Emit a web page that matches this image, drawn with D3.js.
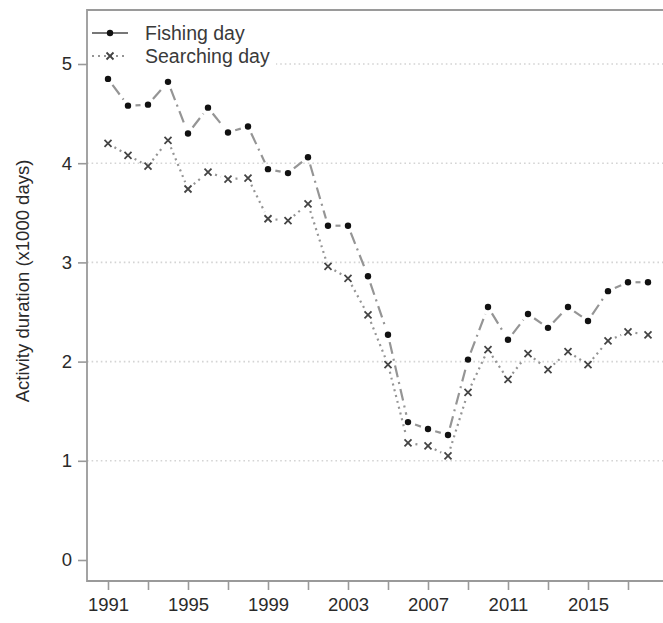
<!DOCTYPE html>
<html><head><meta charset="utf-8">
<script src="https://cdn.jsdelivr.net/npm/d3@7/dist/d3.min.js"></script>
<style>
body{margin:0;background:#fff;}
svg{display:block;font-family:"Liberation Sans",Arial,Helvetica,sans-serif;}
</style></head>
<body>
<svg id="chart" width="663" height="623"></svg>
<script>
const years = d3.range(1991, 2019);
const fishing = [4.85,4.58,4.59,4.82,4.30,4.56,4.31,4.37,3.94,3.90,4.06,3.37,3.37,2.86,2.27,1.39,1.32,1.26,2.02,2.55,2.22,2.48,2.34,2.55,2.41,2.71,2.80,2.80];
const searching = [4.20,4.08,3.97,4.23,3.74,3.91,3.84,3.85,3.44,3.42,3.59,2.96,2.84,2.47,1.97,1.18,1.15,1.05,1.69,2.12,1.82,2.08,1.92,2.10,1.97,2.21,2.30,2.27];
const yTicks = [0,1,2,3,4,5];
const gridTicks = [1,2,3,4,5];
const xTicks = d3.range(1991, 2018, 2);
const xLabels = [1991,1995,1999,2003,2007,2011,2015];
const seriesNames = ["Fishing day","Searching day"];

(function(){
const svg = d3.select("#chart");
const x = d3.scaleLinear().domain([1991, 2018]).range([108, 648]);
const y = d3.scaleLinear().domain([0, 5]).range([560, 64]);
const pL = 87, pT = 10, pB = 581, pR = 663;
const axisCol = "#9a9a9a", textCol = "#2a2a2a";

// grid
svg.append("g").selectAll("line").data(gridTicks).join("line")
  .attr("x1", pL).attr("x2", pR)
  .attr("y1", d => y(d)).attr("y2", d => y(d))
  .attr("stroke", "#d4d4d4").attr("stroke-width", 1.6)
  .attr("stroke-dasharray", "1.6,3");

// frame
svg.append("path")
  .attr("d", `M${pR},${pT}H${pL}V${pB}H${pR}`)
  .attr("fill", "none").attr("stroke", axisCol).attr("stroke-width", 1.8);

// y axis
const ya = svg.append("g").attr("transform", `translate(${pL},0)`)
  .call(d3.axisLeft(y).tickValues(yTicks).tickSize(9).tickPadding(6).tickFormat(d3.format("d")));
ya.select(".domain").remove();
ya.selectAll("line").attr("stroke", axisCol).attr("stroke-width", 1.6);
ya.selectAll("text").attr("fill", textCol).attr("font-size", 18.5).attr("font-family", "Liberation Sans, Arial, sans-serif");

// x axis
const xa = svg.append("g").attr("transform", `translate(0,${pB})`)
  .call(d3.axisBottom(x).tickValues(xTicks).tickSize(9).tickPadding(8)
    .tickFormat(d => xLabels.includes(d) ? String(d) : ""));
xa.select(".domain").remove();
xa.selectAll("line").attr("stroke", axisCol).attr("stroke-width", 1.6);
xa.selectAll("text").attr("fill", textCol).attr("font-size", 18.5).attr("font-family", "Liberation Sans, Arial, sans-serif");

// y label
svg.append("text")
  .attr("transform", "translate(29,281) rotate(-90)")
  .attr("text-anchor", "middle").attr("fill", textCol).attr("font-size", 18.5)
  .text("Activity duration (x1000 days)");

// lines with gaps around points (type "b")
const gap = 7.5;
function drawSeries(vals, dash, cls) {
  const pts = vals.map((v, i) => [x(years[i]), y(v)]);
  const segs = [];
  for (let i = 0; i < pts.length - 1; i++) {
    const [x1, y1] = pts[i], [x2, y2] = pts[i + 1];
    const L = Math.hypot(x2 - x1, y2 - y1);
    if (L <= 2 * gap) continue;
    const ux = (x2 - x1) / L, uy = (y2 - y1) / L;
    segs.push([x1 + ux * gap, y1 + uy * gap, x2 - ux * gap, y2 - uy * gap]);
  }
  svg.append("g").attr("class", cls).selectAll("line").data(segs).join("line")
    .attr("x1", d => d[0]).attr("y1", d => d[1]).attr("x2", d => d[2]).attr("y2", d => d[3])
    .attr("stroke", "#959595").attr("stroke-width", 2.2).attr("stroke-dasharray", dash)
    .attr("stroke-linecap", "butt");
  return pts;
}
const fPts = drawSeries(fishing, "12,5,2,5", "fish");
const sPts = drawSeries(searching, "2,4", "search");

function cross(g, cx, cy, s) {
  g.append("path").attr("d", `M${cx - s},${cy - s}L${cx + s},${cy + s}M${cx - s},${cy + s}L${cx + s},${cy - s}`)
    .attr("stroke", "#444").attr("stroke-width", 1.8).attr("fill", "none");
}
const sg = svg.append("g");
sPts.forEach(p => cross(sg, p[0], p[1], 3.5));
svg.append("g").selectAll("circle").data(fPts).join("circle")
  .attr("cx", d => d[0]).attr("cy", d => d[1]).attr("r", 3.2).attr("fill", "#111");

// legend
const lg = svg.append("g");
lg.append("rect").attr("x", pL + 1).attr("y", pT + 1).attr("width", 188).attr("height", 60).attr("fill", "#fff");
const legY = [33, 56];
lg.append("line").attr("x1", 92).attr("x2", 128).attr("y1", legY[0]).attr("y2", legY[0])
  .attr("stroke", "#777").attr("stroke-width", 2);
lg.append("circle").attr("cx", 110).attr("cy", legY[0]).attr("r", 3.2).attr("fill", "#111");
lg.append("line").attr("x1", 92).attr("x2", 128).attr("y1", legY[1]).attr("y2", legY[1])
  .attr("stroke", "#959595").attr("stroke-width", 2.2).attr("stroke-dasharray", "2,4");
cross(lg, 110, legY[1], 3.5);
lg.selectAll("text.leg").data(seriesNames).join("text").attr("class", "leg")
  .attr("x", 145).attr("y", (d, i) => legY[i]).attr("dy", "0.35em")
  .attr("fill", "#3a3a3a").attr("font-size", 19.5).text(d => d);
})();
</script>
</body></html>
